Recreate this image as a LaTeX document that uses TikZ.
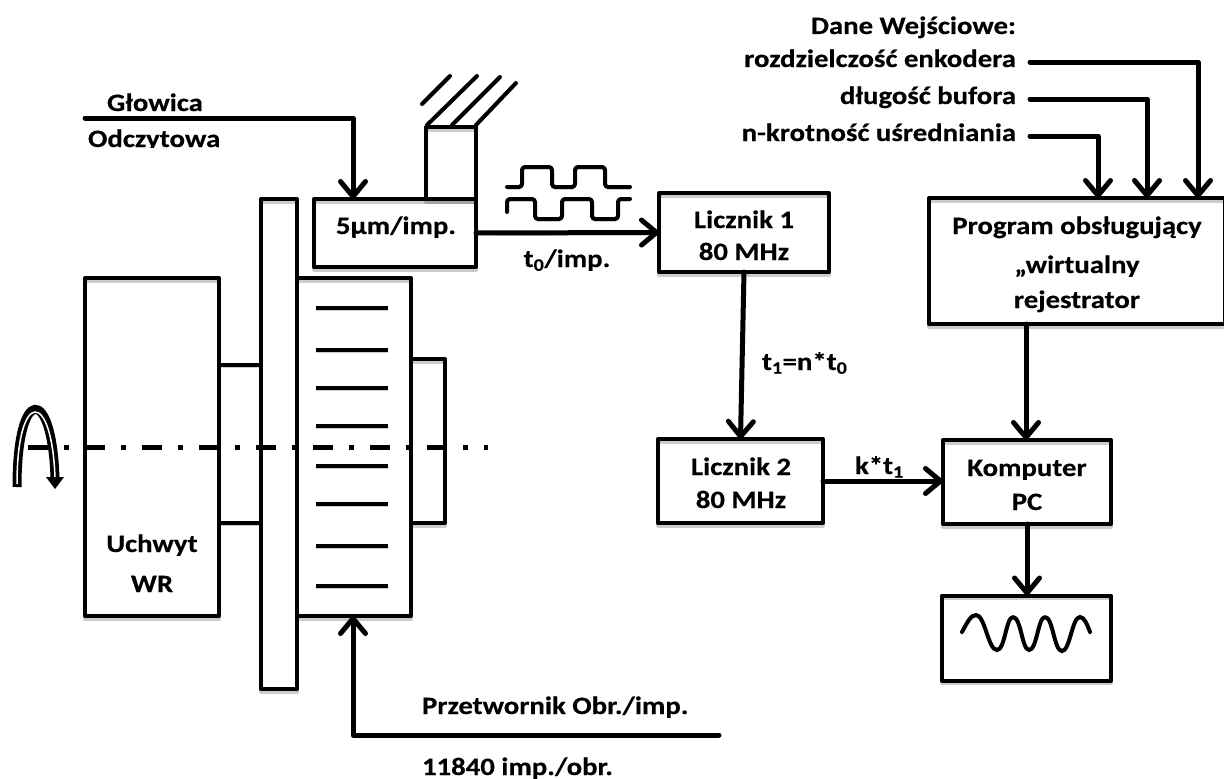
\documentclass[tikz,border=0pt]{standalone}
\usepackage{fontspec}
\setmainfont{Carlito}[FakeStretch=1.15,BoldFeatures={FakeBold=0.4}]
\usetikzlibrary{arrows.meta,calc}
\tikzset{
  soft/.style={preaction={draw,draw opacity=.2,transform canvas={yshift=-2.5pt}}},
  ln/.style={line width=4pt,line join=round,line cap=round,draw=black,soft},
  thin ln/.style={line width=3.4pt,line join=round,draw=black,soft},
  arr/.style={line width=5pt,line join=round,line cap=round,draw=black,soft,
     -{Straight Barb[length=15pt,width=25pt,line width=5pt,round]}},
  box/.style={draw=black,line width=4pt,line join=round,rectangle,outer sep=0pt,inner sep=0pt,soft},
  lab/.style={inner sep=0pt,outer sep=0pt,font=\fontsize{25}{34}\selectfont\bfseries},
}
\begin{document}
\begin{tikzpicture}[x=1pt,y=-1pt]
\useasboundingbox (0,0) rectangle (1224,779);
% mechanical parts
\node[box,minimum width=134pt,minimum height=338pt] (chuck) at (152,447) {};
\node[box,minimum width=36pt,minimum height=490pt] (plate) at (279,444) {};
\node[box,minimum width=114pt,minimum height=338pt] (drum) at (354,447) {};
\node[box,minimum width=34pt,minimum height=164pt] (hub) at (428,441) {};
\node[box,minimum width=50pt,minimum height=72pt] (holder) at (451,163) {};
\node[box,minimum width=162pt,minimum height=68pt] (head) at (395,233) {};
\coordinate (sa1) at (219,365); \coordinate (sa2) at (261,365);
\coordinate (sb1) at (219,523); \coordinate (sb2) at (261,523);
\draw[thin ln] (sa1) -- (sa2);
\draw[thin ln] (sb1) -- (sb2);
% drum scale
\foreach \i/\yy in {1/308,2/350,3/388,4/426,5/466,6/504,7/546,8/586}{
  \coordinate (dl\i) at (316,\yy); \coordinate (dr\i) at (388,\yy);
  \draw[ln,line cap=butt] (dl\i) -- (dr\i);
}
% hatch
\draw[ln] (422,104) -- (450,76);
\draw[ln] (427,125) -- (477,76);
\draw[ln] (452,125) -- (500,77);
\draw[ln] (476,125) -- (516,83);
% axis
\coordinate (axL) at (28,447); \coordinate (axR) at (488,447);
\draw[line width=5pt,dash pattern=on 20pt off 16pt on 5pt off 16pt,
  preaction={draw,draw opacity=.2,dash pattern=on 20pt off 16pt on 5pt off 16pt,transform canvas={yshift=-2.5pt}}] (axL) -- (axR);
% rotation arrow
\coordinate (rotA) at (17,487); \coordinate (rotB) at (55,478);
\draw[line width=9pt,line cap=butt] (rotA) .. controls (17,385) and (52,385) .. (rotB);
\draw[line width=1.5pt,white,line cap=butt] (17,484) .. controls (17,389) and (52,389) .. (55,478);
\fill (46,477) -- (64,477) -- (55,489) -- cycle;
% counters and PC
\node[box,minimum width=170pt,minimum height=79pt] (l1) at (744,232.5) {};
\node[box,minimum width=165pt,minimum height=84pt] (l2) at (740.5,481) {};
\node[box,minimum width=168pt,minimum height=84pt] (pc) at (1027,482) {};
\node[box,minimum width=169pt,minimum height=85pt] (scope) at (1026.5,638) {};
\node[box,minimum width=295.5pt,minimum height=126pt] (prog) at (1076.75,261) {};
% pulses
\draw[ln,rounded corners=3pt] (507,187) -- (522,187) -- (522,167) -- (552,167) -- (552,187) -- (575,187) -- (575,167) -- (605,167) -- (605,187) -- (630,187);
\draw[ln,rounded corners=3pt] (507,212) -- (507,199) -- (535,199) -- (535,219) -- (562,219) -- (562,199) -- (592,199) -- (592,219) -- (618,219) -- (618,199) -- (630,199);
% wave
\draw[ln] (962,632) .. controls (968,621) and (971,615) .. (976,615)
  .. controls (985,615) and (988,650) .. (997,650)
  .. controls (1005,650) and (1006,617) .. (1013,617)
  .. controls (1021,617) and (1022,650) .. (1029,650)
  .. controls (1037,650) and (1038,617) .. (1045,617)
  .. controls (1053,617) and (1054,651) .. (1062,651)
  .. controls (1070,651) and (1072,617) .. (1080,617)
  .. controls (1084,617) and (1087,624) .. (1090,632);
% connectors
\coordinate (glowS) at (85,118); \coordinate (glowC) at (353,118);
\draw[arr] (glowS) -- (glowC) -- (head.north -| glowC);
\coordinate (prS) at (719,735); \coordinate (prC) at (353,735);
\draw[arr] (prS) -- (prC) -- (drum.south -| prC);
\draw[arr] (head.east) -- (l1.west);
\draw[arr] (l1.south) -- (l2.north);
\draw[arr] (l2.east) -- (l2.east -| pc.west);
\draw[arr] ([xshift=-1pt]pc.north |- prog.south) -- ([xshift=-1pt]pc.north);
\draw[arr] (pc.south) -- (pc.south |- scope.north);
\coordinate (i1) at (1030,62); \coordinate (i1c) at (1198,62);
\coordinate (i2) at (1030,99); \coordinate (i2c) at (1147,99);
\coordinate (i3) at (1030,136); \coordinate (i3c) at (1098,136);
\draw[arr] (i1) -- (i1c) -- (i1c |- prog.north);
\draw[arr] (i2) -- (i2c) -- (i2c |- prog.north);
\draw[arr] (i3) -- (i3c) -- (i3c |- prog.north);
% labels
\node[lab,anchor=base] (headt) at (396,234) {5µm/imp.};
\node[lab,anchor=base] (l1a) at (744,228) {Licznik 1};
\node[lab,anchor=base] (l1b) at (744,260) {80 MHz};
\node[lab,anchor=base] (l2a) at (741,475) {Licznik 2};
\node[lab,anchor=base] (l2b) at (741,508) {80 MHz};
\node[lab,anchor=base] (pca) at (1027,476) {Komputer};
\node[lab,anchor=base] (pcb) at (1027,510) {PC};
\node[lab,anchor=base] (pra) at (1077,234) {Program obsługujący};
\node[lab,anchor=base] (prb) at (1077,273) {„wirtualny};
\node[lab,anchor=base] (prc) at (1077,308) {rejestrator};
\node[lab,anchor=base west] (t1) at (107,111) {Głowica};
\begin{scope}
\clip (60,124) rectangle (260,147);
\node[lab,anchor=base west] (t2) at (88,147) {Odczytowa};
\end{scope}
\node[lab,anchor=base] (t3) at (567,267) {t\textsubscript{0}/imp.};
\node[lab,anchor=base west] (t4) at (762,370) {t\textsubscript{1}=n*t\textsubscript{0}};
\node[lab,anchor=base west] (t5) at (855,474) {k*t\textsubscript{1}};
\node[lab,anchor=base] (t6) at (152,552) {Uchwyt};
\node[lab,anchor=base] (t7) at (152,592) {WR};
\node[lab,anchor=base west] (t8) at (422,714) {Przetwornik Obr./imp.};
\node[lab,anchor=base west] (t9) at (422,775) {11840 imp./obr.};
\node[lab,anchor=base east] (t10) at (1016,34) {Dane Wejściowe:};
\node[lab,anchor=base east] (t11) at (1016,67) {rozdzielczość enkodera};
\node[lab,anchor=base east] (t12) at (1016,104) {długość bufora};
\node[lab,anchor=base east] (t13) at (1016,141) {n-krotność uśredniania};
\end{tikzpicture}
\end{document}
